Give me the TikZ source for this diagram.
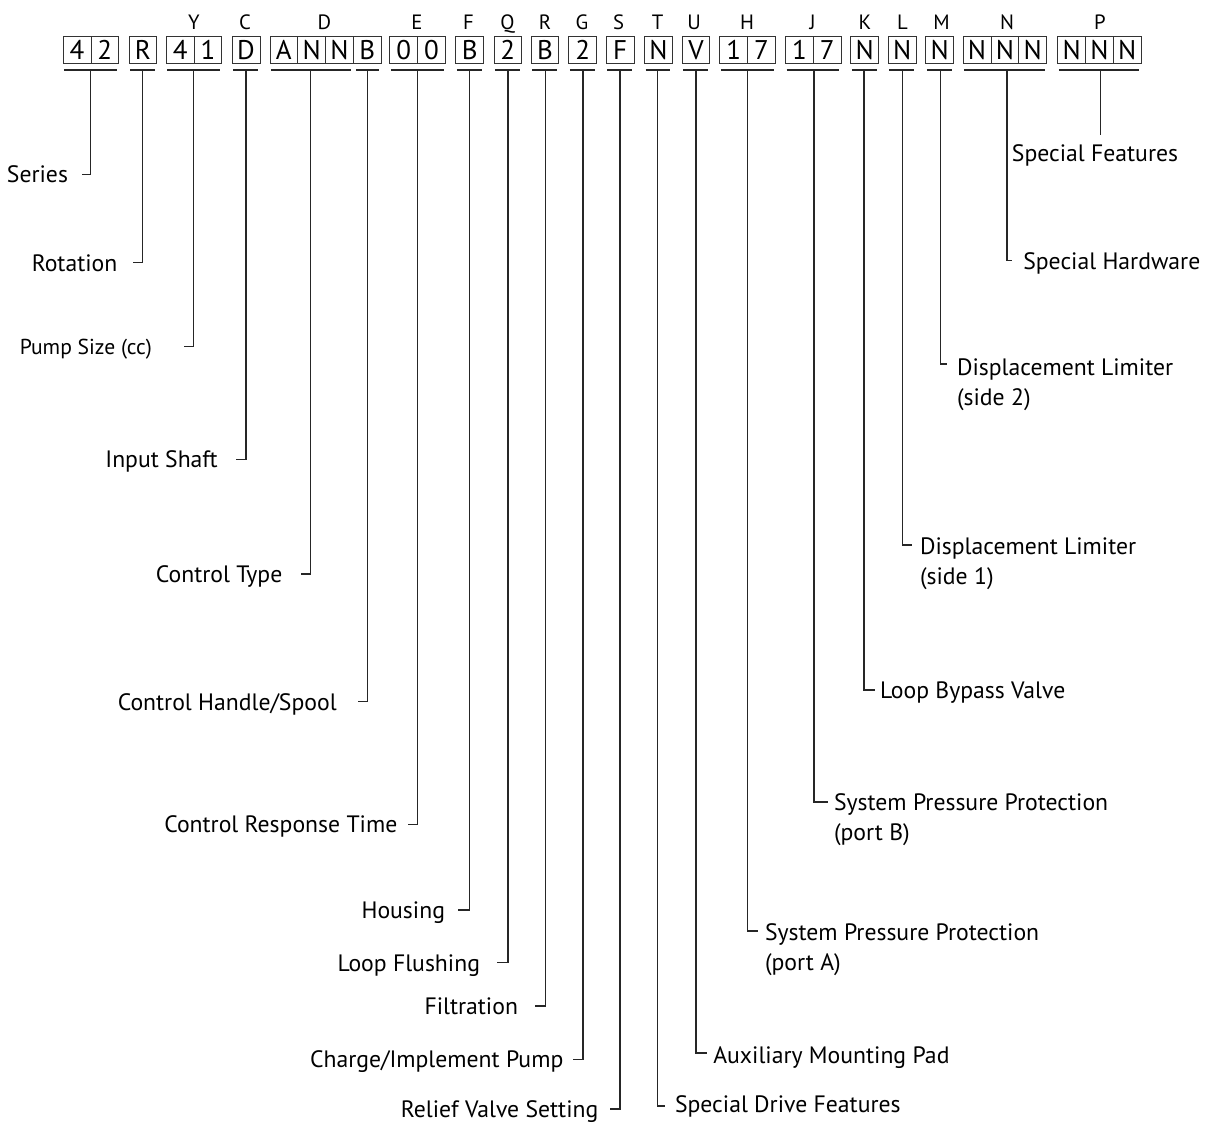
\documentclass[tikz,border=0pt]{standalone}
\usepackage{fontspec}
\setmainfont{PT Sans}
\begin{document}
\begin{tikzpicture}[x=1pt,y=-1pt,
  cell/.style={draw=black!80, line width=0.9pt, minimum width=27.8pt, minimum height=26.6pt, inner sep=0pt, anchor=west, text height=18.9pt, text depth=0pt, font=\fontsize{27}{31}\selectfont},
  key/.style={inner sep=0pt, text height=14.5pt, text depth=0pt, font=\fontsize{20.7}{25}\selectfont},
  lbl/.style={inner sep=0pt, outer sep=0pt, text height=16.6pt, text depth=0pt, font=\fontsize{23.7}{28}\selectfont},
  small/.style={lbl, text height=15.1pt, font=\fontsize{21.6}{26}\selectfont},
  uline/.style={line width=1.1pt, black!85},
  conn/.style={line width=1.1pt, black!85}]
\useasboundingbox (0,0) rectangle (1205,1124);

% code cells
\foreach \n/\x/\t in {c1/62.7/4, c2/90.5/2, c3/128.5/R, c4/165.8/4, c5/193.6/1, c6/231.7/D,
  c7/269.5/A, c8/297.3/N, c9/325.1/N, c10/352.9/B, c11/389.3/0, c12/417.1/0,
  c13/455.3/B, c14/493.5/2, c15/530.6/B, c16/568.3/2, c17/605.8/F, c18/644/N, c19/681.6/V,
  c20/719.4/1, c21/747.2/7, c22/785/1, c23/812.8/7, c24/850.3/N, c25/887.8/N, c26/925.3/N,
  c27/962.7/N, c28/990.5/N, c29/1018.3/N, c30/1057.3/N, c31/1085.1/N, c32/1112.9/N}
  \node[cell] (\n) at (\x,50) {\t};

% position letters
\foreach \n/\x/\t in {kY/194/Y, kC/245/C, kD/324.5/D, kE/417/E, kF/468.5/F, kQ/507.5/Q, kR/545/R,
  kG/582/G, kS/618.5/S, kT/657.5/T, kU/694/U, kH/747/H, kJ/812.7/J, kK/865/K, kL/902.5/L,
  kM/941.5/M, kN/1007/N, kP/1100/P}
  \node[key] (\n) at (\x,22.2) {\t};

% underlines
\foreach \a/\b in {62.7/118.3, 128.5/156.3, 165.8/221.4, 231.7/259.5, 269.5/352.2, 354.5/380.7,
  389.3/445, 455.3/483.1, 493.5/521.3, 530.6/558.4, 568.3/596.1, 605.8/633.6, 644/671.8,
  681.6/709.4, 719.4/775, 785/840.6, 850.3/878.1, 887.8/915.6, 925.3/953.1, 962.7/1046.1, 1057.3/1140.7}
  \draw[uline] ({\a+1.5},70) -- ({\b-1.5},70);

% stem roots
\coordinate (s42) at (90.7,70);
\coordinate (sR) at (142.7,70);
\coordinate (sY) at (193.5,70);
\coordinate (sC) at (246,70);
\coordinate (sD) at (310.7,70);
\coordinate (sB) at (367.5,70);
\coordinate (sE) at (417.3,70);
\coordinate (sF) at (469.3,70);
\coordinate (sQ) at (508,70);
\coordinate (sR2) at (545.5,70);
\coordinate (sG) at (583,70);
\coordinate (sS) at (620,70);
\coordinate (sT) at (657.7,70);
\coordinate (sU) at (696,70);
\coordinate (sH) at (747.3,70);
\coordinate (sJ) at (814,70);
\coordinate (sK) at (864,70);
\coordinate (sL) at (902.3,70);
\coordinate (sM) at (940.5,70);
\coordinate (sN) at (1007,70);
\coordinate (sP) at (1100.7,70);

% left labels
\node[lbl, anchor=east] (series) at (68,174.3) {Series};
\node[lbl, anchor=east] (rotation) at (117.3,262.7) {Rotation};
\node[small, anchor=east] (pump) at (152,346.7) {Pump Size (cc)};
\node[lbl, anchor=east] (input) at (217.7,459.3) {Input Shaft};
\node[lbl, anchor=east] (ctype) at (282.3,574) {Control Type};
\node[lbl, anchor=east] (handle) at (336.7,701.7) {Control Handle/Spool};
\node[lbl, anchor=east] (resp) at (397.3,824.3) {Control Response Time};
\node[lbl, anchor=east] (housing) at (445,910) {Housing};
\node[lbl, anchor=east] (flush) at (480,962.7) {Loop Flushing};
\node[lbl, anchor=east] (filt) at (518,1006) {Filtration};
\node[lbl, anchor=east] (charge) at (563.3,1059.3) {Charge/Implement Pump};
\node[lbl, anchor=east] (relief) at (598.3,1109) {Relief Valve Setting};

\draw[conn] (s42) |- ([xshift=13.7pt]series.east);
\draw[conn] (sR) |- ([xshift=15.4pt]rotation.east);
\draw[conn] (sY) |- ([xshift=32pt]pump.east);
\draw[conn] (sC) |- ([xshift=18pt]input.east);
\draw[conn] (sD) |- ([xshift=18.7pt]ctype.east);
\draw[conn] (sB) |- ([xshift=21.6pt]handle.east);
\draw[conn] (sE) |- ([xshift=11pt]resp.east);
\draw[conn] (sF) |- ([xshift=13.3pt]housing.east);
\draw[conn] (sQ) |- ([xshift=16.7pt]flush.east);
\draw[conn] (sR2) |- ([xshift=17pt]filt.east);
\draw[conn] (sG) |- ([xshift=10pt]charge.east);
\draw[conn] (sS) |- ([xshift=11.7pt]relief.east);

% right labels
\node[lbl, anchor=west] (sdf) at (675,1104) {Special Drive Features};
\node[lbl, anchor=west] (aux) at (713.3,1055) {Auxiliary Mounting Pad};
\node[lbl, anchor=west] (spa) at (765,932.5) {System Pressure Protection};
\node[lbl, anchor=west] (spa2) at (765,962.5) {(port A)};
\node[lbl, anchor=west] (spb) at (834,802) {System Pressure Protection};
\node[lbl, anchor=west] (spb2) at (834,832) {(port B)};
\node[lbl, anchor=west] (lbv) at (880,690) {Loop Bypass Valve};
\node[lbl, anchor=west] (dl1) at (920,546) {Displacement Limiter};
\node[lbl, anchor=west] (dl1b) at (920,576) {(side 1)};
\node[lbl, anchor=west] (dl2) at (957,367) {Displacement Limiter};
\node[lbl, anchor=west] (dl2b) at (957,397) {(side 2)};
\node[lbl, anchor=west] (sh) at (1023.3,260.7) {Special Hardware};
\node[lbl] (sf) at (1095,153) {Special Features};
\coordinate (sftop) at ([yshift=10pt]sf.north);

\draw[conn] (sT) |- ([xshift=-10pt,yshift=-2pt]sdf.west);
\draw[conn] (sU) |- ([xshift=-6.6pt,yshift=2pt]aux.west);
\draw[conn] (sH) |- ([xshift=-6.7pt,yshift=1.5pt]spa.west);
\draw[conn] (sJ) |- ([xshift=-5.7pt]spb.west);
\draw[conn] (sK) |- ([xshift=-5pt]lbv.west);
\draw[conn] (sL) |- ([xshift=-8.3pt,yshift=1pt]dl1.west);
\draw[conn] (sM) |- ([xshift=-10.3pt,yshift=3pt]dl2.west);
\draw[conn] (sN) |- ([xshift=-11.6pt]sh.west);
\draw[conn] (sP) -- (sP |- sftop);
\end{tikzpicture}
\end{document}
